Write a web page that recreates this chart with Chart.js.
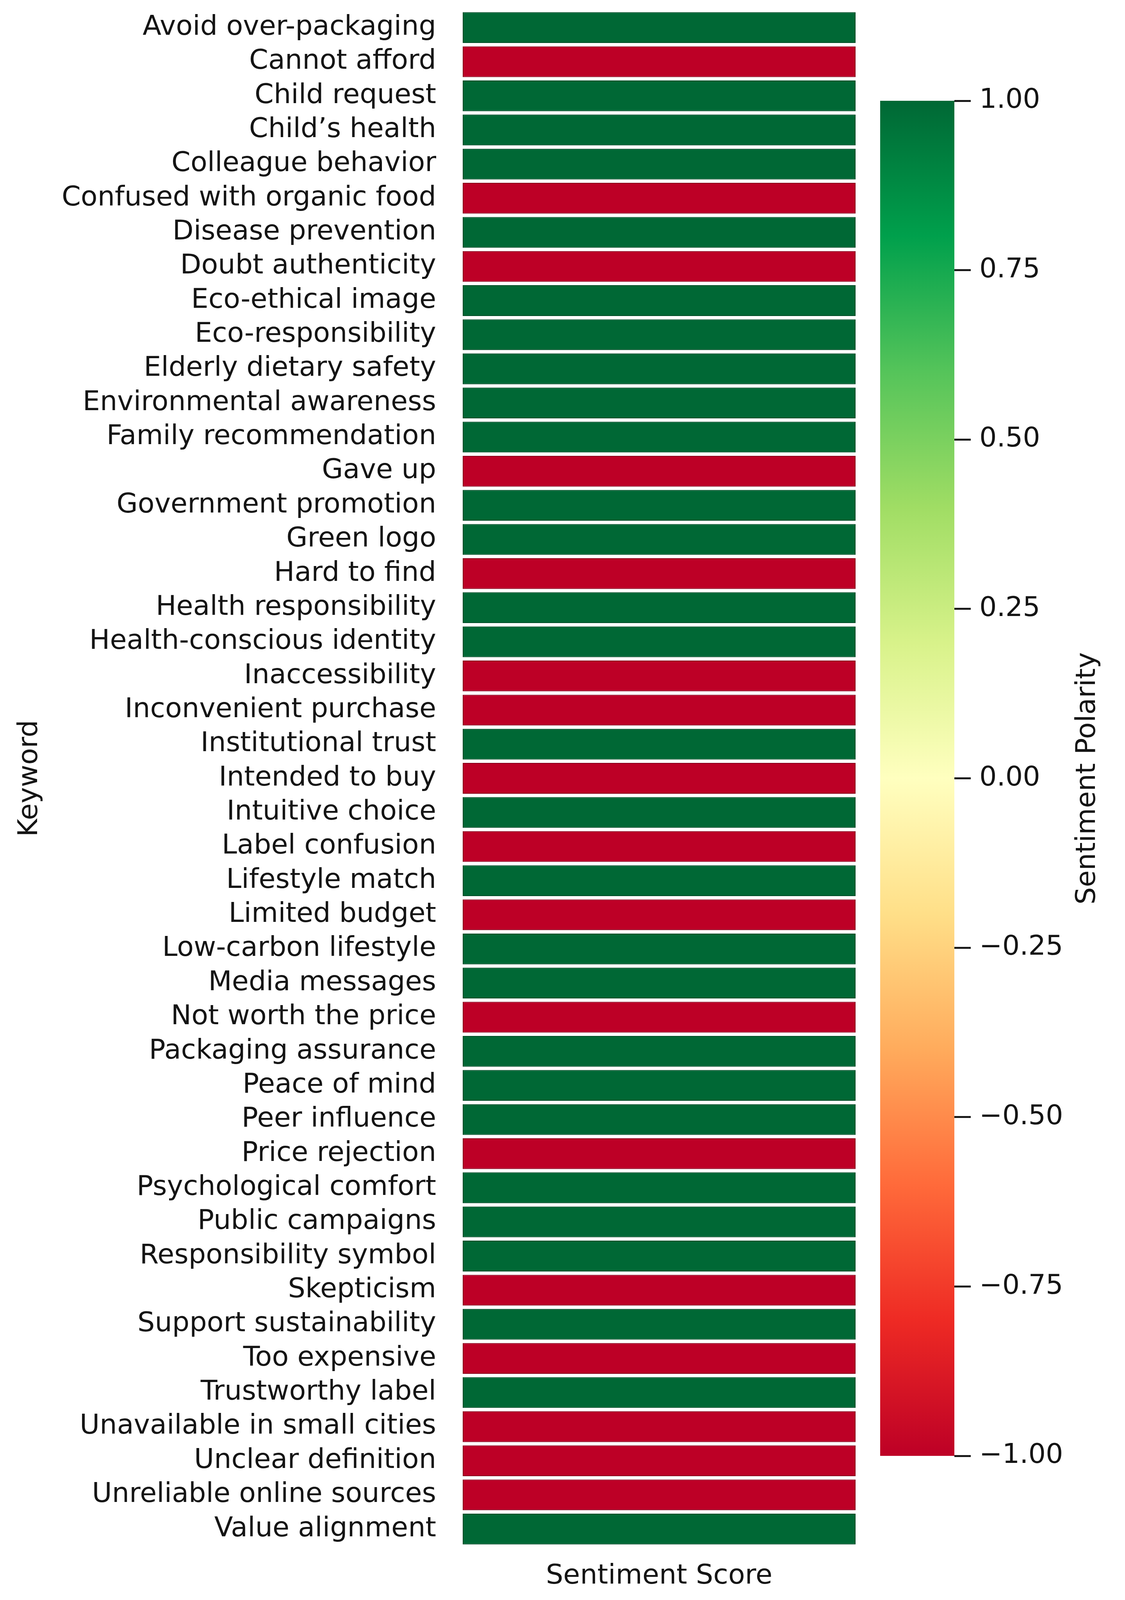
<!DOCTYPE html>
<html>
<head>
<meta charset="utf-8">
<title>Keyword sentiment heatmap</title>
<script src="https://cdn.jsdelivr.net/npm/chart.js@4.4.1/dist/chart.umd.min.js"></script>
<style>
  html, body { margin: 0; padding: 0; background: #fff; overflow: hidden; }
  body { width: 2881px; position: relative; }
  canvas { position: absolute; top: 0; }
  #heatmap { left: 0; }
  #colorbar { left: 2200px; }
</style>
</head>
<body>
<canvas id="heatmap"></canvas>
<canvas id="colorbar"></canvas>
<script>
// Keywords (rows of the heatmap)
const keywords = [
  'Avoid over-packaging', 'Cannot afford', 'Child request', 'Child’s health',
  'Colleague behavior', 'Confused with organic food', 'Disease prevention',
  'Doubt authenticity', 'Eco-ethical image', 'Eco-responsibility',
  'Elderly dietary safety', 'Environmental awareness', 'Family recommendation',
  'Gave up', 'Government promotion', 'Green logo', 'Hard to find',
  'Health responsibility', 'Health-conscious identity', 'Inaccessibility',
  'Inconvenient purchase', 'Institutional trust', 'Intended to buy',
  'Intuitive choice', 'Label confusion', 'Lifestyle match', 'Limited budget',
  'Low-carbon lifestyle', 'Media messages', 'Not worth the price',
  'Packaging assurance', 'Peace of mind', 'Peer influence', 'Price rejection',
  'Psychological comfort', 'Public campaigns', 'Responsibility symbol',
  'Skepticism', 'Support sustainability', 'Too expensive', 'Trustworthy label',
  'Unavailable in small cities', 'Unclear definition',
  'Unreliable online sources', 'Value alignment'
];

// Sentiment score per keyword
const sentimentScores = [
  1, -1, 1, 1,
  1, -1, 1,
  -1, 1, 1,
  1, 1, 1,
  -1, 1, 1, -1,
  1, 1, -1,
  -1, 1, -1,
  1, -1, 1, -1,
  1, 1, -1,
  1, 1, 1, -1,
  1, 1, 1,
  -1, 1, -1, 1,
  -1, -1,
  -1, 1
];

// Colorbar ticks
const colorbarTicks = [-1, -0.75, -0.5, -0.25, 0, 0.25, 0.5, 0.75, 1];

// RdYlGn-like colormap (a bit more saturated, like the picture)
const cmapStops = ['#bd0026', '#ee2a24', '#ff6a3a', '#ffab5c', '#ffdf88', '#ffffbf',
                   '#d8f28a', '#a0dd64', '#55c45a', '#00a04c', '#006835'];

// the figure was laid out for 4479px; squeeze vertically if the window is shorter
const H = Math.min(4479, window.innerHeight || 4479);
const sy = H / 4479;
document.body.style.height = H + 'px';

const FONT = { family: '"DejaVu Sans", sans-serif', size: 70 };
const TEXT = '#141414';

function setupCanvas(id, w) {
  const c = document.getElementById(id);
  c.width = w; c.height = H;
  c.style.width = w + 'px'; c.style.height = H + 'px';
  return c;
}

function hexToRgb(h) {
  const n = parseInt(h.slice(1), 16);
  return [n >> 16, (n >> 8) & 255, n & 255];
}

function cmapRgb(v) {
  const t = Math.min(1, Math.max(0, (v + 1) / 2));
  const seg = t * (cmapStops.length - 1);
  const i = Math.min(Math.floor(seg), cmapStops.length - 2);
  const f = seg - i;
  const a = hexToRgb(cmapStops[i]), b = hexToRgb(cmapStops[i + 1]);
  return a.map((x, k) => Math.round(x + (b[k] - x) * f));
}

const cmap = v => `rgb(${cmapRgb(v).join(',')})`;
const cmapEdge = v => `rgb(${cmapRgb(v).map(c => Math.round(c * 0.72)).join(',')})`;

function fmtTick(v) {
  if (Math.abs(v) < 1e-9) v = 0;
  return v.toFixed(2).replace('-', '\u2212');
}

// heatmap: one column, each keyword is a cell spanning the column
new Chart(setupCanvas('heatmap', 2200), {
  type: 'bar',
  data: {
    labels: keywords,
    datasets: [{
      data: sentimentScores.map(() => [0, 1]),
      backgroundColor: ctx => cmap(sentimentScores[ctx.dataIndex]),
      borderColor: ctx => cmapEdge(sentimentScores[ctx.dataIndex]),
      borderWidth: 2,
      borderSkipped: false,
      barPercentage: 0.902,
      categoryPercentage: 1
    }]
  },
  options: {
    indexAxis: 'y',
    responsive: false,
    animation: false,
    layout: { padding: { top: Math.round(30 * sy), right: 9, bottom: 0, left: 0 } },
    plugins: {
      legend: { display: false },
      tooltip: { enabled: false }
    },
    scales: {
      x: {
        type: 'linear',
        min: 0,
        max: 1,
        ticks: { display: false },
        grid: { display: false, drawTicks: false, tickLength: 0 },
        border: { display: false },
        title: {
          display: true,
          text: 'Sentiment Score',
          font: FONT,
          color: TEXT,
          padding: { top: 40, bottom: Math.round(20 * sy) }
        },
        afterFit: s => { s.height = Math.round(151 * sy); s.paddingLeft = 0; s.paddingRight = 0; }
      },
      y: {
        type: 'category',
        ticks: { font: FONT, color: TEXT, padding: 68, autoSkip: false },
        grid: { display: false, drawTicks: false, tickLength: 0 },
        border: { display: false },
        title: {
          display: true,
          text: 'Keyword',
          font: FONT,
          color: TEXT,
          padding: { top: 35, bottom: 0 }
        },
        afterFit: s => { s.width = 1185; s.paddingTop = 0; s.paddingBottom = 0; }
      }
    }
  }
});

// rotated title for the colorbar (reads bottom to top)
const colorbarTitle = {
  id: 'colorbarTitle',
  afterDraw(chart) {
    const { ctx, chartArea } = chart;
    ctx.save();
    ctx.translate(chart.scales.y.right - 95, (chartArea.top + chartArea.bottom) / 2);
    ctx.rotate(-Math.PI / 2);
    ctx.font = `${FONT.size}px ${FONT.family}`;
    ctx.fillStyle = TEXT;
    ctx.textAlign = 'center';
    ctx.textBaseline = 'middle';
    ctx.fillText('Sentiment Polarity', 0, 0);
    ctx.restore();
  }
};

new Chart(setupCanvas('colorbar', 681), {
  type: 'bar',
  data: {
    labels: ['Sentiment Polarity'],
    datasets: [{
      data: [[colorbarTicks[0], colorbarTicks[colorbarTicks.length - 1]]],
      backgroundColor: ctx => {
        const chart = ctx.chart;
        if (!chart.chartArea) return cmap(0);
        const ys = chart.scales.y;
        const g = chart.ctx.createLinearGradient(0, ys.getPixelForValue(-1), 0, ys.getPixelForValue(1));
        cmapStops.forEach((c, i) => g.addColorStop(i / (cmapStops.length - 1), c));
        return g;
      },
      borderWidth: 0,
      barPercentage: 1,
      categoryPercentage: 1
    }]
  },
  options: {
    responsive: false,
    animation: false,
    layout: { padding: { top: Math.round(282 * sy), right: 0, bottom: Math.round(403 * sy), left: 54 } },
    plugins: {
      legend: { display: false },
      tooltip: { enabled: false }
    },
    scales: {
      x: { display: false },
      y: {
        position: 'right',
        min: -1,
        max: 1,
        afterBuildTicks: s => { s.ticks = colorbarTicks.map(v => ({ value: v })); },
        ticks: { callback: v => fmtTick(v), font: FONT, color: TEXT, padding: 22 },
        grid: { drawOnChartArea: false, drawTicks: true, tickLength: 42, tickWidth: 5, tickColor: '#1a1a1a' },
        border: { display: false },
        afterFit: s => { s.width = 437; s.paddingTop = 0; s.paddingBottom = 0; }
      }
    }
  },
  plugins: [colorbarTitle]
});
</script>
</body>
</html>
